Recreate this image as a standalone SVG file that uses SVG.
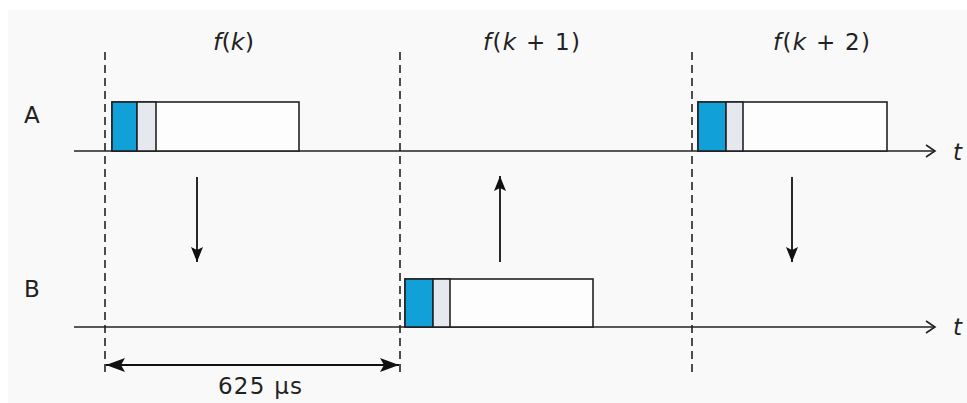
<svg xmlns="http://www.w3.org/2000/svg" width="967" height="403" viewBox="0 0 967 403">
<defs>
<style>
.bg{fill:#f9f9f9}
.ax{stroke:#222;stroke-width:1.6;fill:none}
.dash{stroke:#222;stroke-width:1.6;stroke-dasharray:8,5;fill:none}
.frame{fill:#fdfdfd;stroke:#222;stroke-width:1.6}
.blue{fill:#12a0d9;stroke:#222;stroke-width:1.6}
.grey{fill:#e6e8ef;stroke:#222;stroke-width:1.6}
.arr{stroke:#111;stroke-width:1.8;fill:none}
text{font-family:"DejaVu Sans","Open Sans",sans-serif;fill:#222}
.lbl{font-size:23px}
.it{font-style:italic}
</style>
<marker id="open" markerWidth="14" markerHeight="16" refX="11" refY="8" orient="auto" markerUnits="userSpaceOnUse">
<path d="M2,2 L11,8 L2,14" fill="none" stroke="#222" stroke-width="1.6"/>
</marker>
<marker id="head" markerWidth="16" markerHeight="14" refX="15" refY="7" orient="auto" markerUnits="userSpaceOnUse">
<path d="M0,1 L15,7 L0,13 L3,7 Z" fill="#111"/>
</marker>
<marker id="dim" markerWidth="20" markerHeight="16" refX="19" refY="8" orient="auto-start-reverse" markerUnits="userSpaceOnUse">
<path d="M0,1 L19,8 L0,15 L4,8 Z" fill="#111"/>
</marker>
</defs>
<rect x="0" y="0" width="967" height="403" fill="#ffffff"/>
<rect class="bg" x="8" y="10" width="959" height="393"/>

<g id="labels">
<text class="lbl" x="213" y="50" textLength="41" lengthAdjust="spacingAndGlyphs"><tspan class="it">f</tspan>(<tspan class="it">k</tspan>)</text>
<text class="lbl" x="483" y="50" textLength="97" lengthAdjust="spacing"><tspan class="it">f</tspan>(<tspan class="it">k</tspan> + 1)</text>
<text class="lbl" x="773" y="50" textLength="97" lengthAdjust="spacing"><tspan class="it">f</tspan>(<tspan class="it">k</tspan> + 2)</text>
</g>

<g id="lane-A">
<text x="24" y="123" font-size="23">A</text>
<text class="lbl it" x="953" y="160">t</text>
</g>
<g id="lane-B">
<text x="24" y="297" font-size="23">B</text>
<text class="lbl it" x="953" y="335">t</text>
</g>

<g id="connectors">
<line class="ax" x1="74" y1="151" x2="935" y2="151" marker-end="url(#open)"/>
<line class="ax" x1="74" y1="327" x2="935" y2="327" marker-end="url(#open)"/>
<line class="dash" x1="105" y1="52" x2="105" y2="372"/>
<line class="dash" x1="400" y1="52" x2="400" y2="372"/>
<line class="dash" x1="692" y1="52" x2="692" y2="372"/>
<line class="arr" x1="197" y1="177" x2="197" y2="262" marker-end="url(#head)"/>
<line class="arr" x1="500" y1="262" x2="500" y2="176" marker-end="url(#head)"/>
<line class="arr" x1="792" y1="177" x2="792" y2="262" marker-end="url(#head)"/>
<line class="arr" x1="106" y1="365" x2="399" y2="365" marker-start="url(#dim)" marker-end="url(#dim)"/>
</g>

<g id="packet-A1">
<rect class="frame" x="112" y="102" width="187" height="49"/>
<rect class="blue" x="112" y="102" width="25" height="49"/>
<rect class="grey" x="137" y="102" width="19" height="49"/>
</g>
<g id="packet-B">
<rect class="frame" x="405" y="279" width="188" height="48"/>
<rect class="blue" x="405" y="279" width="28" height="48"/>
<rect class="grey" x="433" y="279" width="17" height="48"/>
</g>
<g id="packet-A3">
<rect class="frame" x="698" y="102" width="189" height="49"/>
<rect class="blue" x="698" y="102" width="28" height="49"/>
<rect class="grey" x="726" y="102" width="17" height="49"/>
</g>

<g id="dimension">
<text x="218" y="394" font-size="23" textLength="84" lengthAdjust="spacing">625 µs</text>
</g>
</svg>
